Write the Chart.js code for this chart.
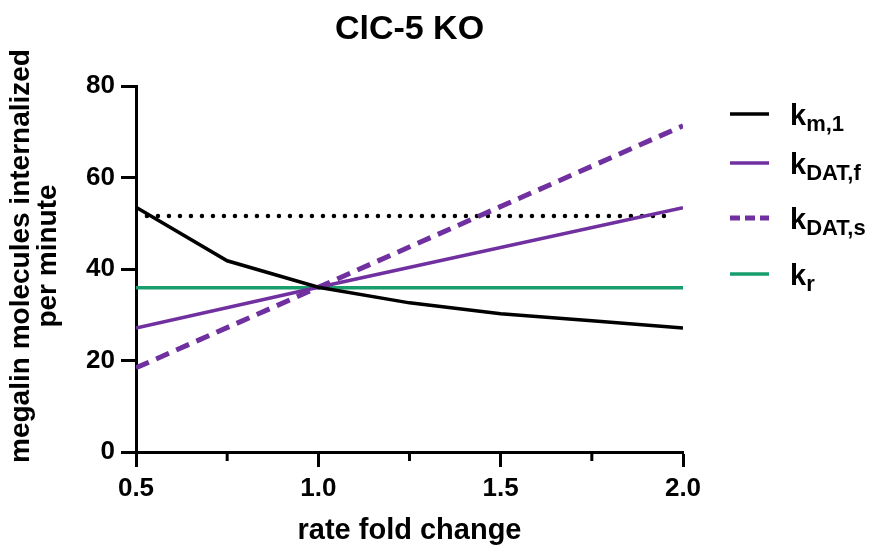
<!DOCTYPE html>
<html><head><meta charset="utf-8">
<script src="https://cdn.jsdelivr.net/npm/chart.js@4.4.1/dist/chart.umd.min.js"></script>
<style>html,body{margin:0;padding:0;background:#fff}#wrap{width:875px;height:554px}</style>
</head><body><div id="wrap"><canvas id="c" width="875" height="554"></canvas></div>
<script>
// ---- data ----
const chartTitle = 'ClC-5 KO';
const xTitle = 'rate fold change';
const yTitle = ['megalin molecules internalized', 'per minute'];
const xTickValues = [0.5, 1.0, 1.5, 2.0];
const xMinorTicks = [0.75, 1.25, 1.75];
const yTickValues = [0, 20, 40, 60, 80];

const foldKm1 = [0.5, 0.75, 1.0, 1.25, 1.5, 1.75, 2.0];
const km1 = [53.5, 41.8, 36.0, 32.6, 30.2, 28.7, 27.1];

const foldLinear = [0.5, 1.0, 2.0];
const kDATf = [27.1, 36.0, 53.4];
const kDATs = [18.4, 36.0, 71.3];

const foldKr = [0.5, 2.0];
const kr = [35.9, 35.9];

const foldRef = [0.53, 1.97];
const refLevel = [51.6, 51.6];

const legendMain = ['k', 'k', 'k', 'k'];
const legendSub = ['m,1', 'DAT,f', 'DAT,s', 'r'];

// ---- chart ----
const FONT = '"Liberation Sans", Arial, Helvetica, sans-serif';
const BLACK = '#000000', PURPLE = '#7030A0', GREEN = '#189E6C';
const pts = (xs, ys) => xs.map((v, i) => ({x: v, y: ys[i]}));

const datasets = [
  {data: pts(foldKm1, km1), borderColor: BLACK, borderWidth: 3.5, legendIdx: 0},
  {data: pts(foldLinear, kDATf), borderColor: PURPLE, borderWidth: 3.5, legendIdx: 1},
  {data: pts(foldLinear, kDATs), borderColor: PURPLE, borderWidth: 5, borderDash: [14, 8], legendIdx: 2},
  {data: pts(foldKr, kr), borderColor: GREEN, borderWidth: 3.5, legendIdx: 3},
  {data: pts(foldRef, refLevel), borderColor: BLACK, borderWidth: 4.5, borderDash: [0, 11], borderCapStyle: 'round'}
].map(d => Object.assign({pointRadius: 0, fill: false, tension: 0, borderCapStyle: d.borderCapStyle || 'butt'}, d));

const decor = {
  id: 'decor',
  afterDraw(chart) {
    const {ctx, chartArea, scales: {x}} = chart;
    ctx.save();
    // minor x ticks
    ctx.strokeStyle = BLACK; ctx.lineWidth = 3;
    xMinorTicks.forEach(v => {
      const px = x.getPixelForValue(v);
      ctx.beginPath(); ctx.moveTo(px, chartArea.bottom); ctx.lineTo(px, chartArea.bottom + 9); ctx.stroke();
    });
    ctx.fillStyle = BLACK;
    // title
    ctx.font = 'bold 34px ' + FONT; ctx.textAlign = 'center'; ctx.textBaseline = 'alphabetic';
    ctx.fillText(chartTitle, (chartArea.left + chartArea.right) / 2, 39);
    // y title
    ctx.save();
    ctx.translate(21, 256); ctx.rotate(-Math.PI / 2);
    ctx.font = 'bold 28px ' + FONT; ctx.textBaseline = 'middle';
    yTitle.forEach((t, i) => ctx.fillText(t, 0, i * 27));
    ctx.restore();
    // legend
    const rows = [114, 163, 218, 274];
    chart.data.datasets.forEach(ds => {
      if (ds.legendIdx === undefined) return;
      const i = ds.legendIdx, yy = rows[i];
      ctx.save();
      ctx.strokeStyle = ds.borderColor; ctx.lineWidth = ds.borderWidth;
      ctx.setLineDash(ds.borderDash ? [10, 5] : []);
      ctx.beginPath(); ctx.moveTo(730, yy); ctx.lineTo(769, yy); ctx.stroke();
      ctx.restore();
      ctx.textAlign = 'left'; ctx.textBaseline = 'alphabetic';
      ctx.font = 'bold 29px ' + FONT;
      ctx.fillText(legendMain[i], 790, yy + 11);
      const w = ctx.measureText(legendMain[i]).width;
      ctx.font = 'bold 22px ' + FONT;
      ctx.fillText(legendSub[i], 790 + w, yy + 17);
    });
    ctx.restore();
  }
};

new Chart(document.getElementById('c'), {
  type: 'line',
  data: {datasets},
  options: {
    responsive: false, animation: false,
    layout: {padding: {top: 86, right: 192, bottom: 2, left: 0}},
    plugins: {legend: {display: false}, title: {display: false}, tooltip: {enabled: false}},
    scales: {
      x: {
        type: 'linear', min: 0.5, max: 2.0,
        afterBuildTicks: s => { s.ticks = xTickValues.map(v => ({value: v})); },
        afterFit: s => { s.height = 100; },
        grid: {display: true, drawOnChartArea: false, drawTicks: true, tickLength: 15, tickWidth: 3, tickColor: BLACK},
        border: {display: true, width: 3, color: BLACK},
        ticks: {color: BLACK, padding: 6, font: {family: FONT, size: 26, weight: 'bold'}, callback: v => v.toFixed(1), maxRotation: 0},
        title: {display: true, text: xTitle, color: BLACK, font: {family: FONT, size: 29, weight: 'bold'}, padding: {top: 0, bottom: 4}}
      },
      y: {
        type: 'linear', min: 0, max: 80,
        afterBuildTicks: s => { s.ticks = yTickValues.map(v => ({value: v})); },
        afterFit: s => { s.width = 136; },
        grid: {display: true, drawOnChartArea: false, drawTicks: true, tickLength: 15, tickWidth: 3, tickColor: BLACK},
        border: {display: true, width: 3, color: BLACK},
        ticks: {color: BLACK, padding: 6, font: {family: FONT, size: 26, weight: 'bold'}}
      }
    }
  },
  plugins: [decor]
});
</script></body></html>
